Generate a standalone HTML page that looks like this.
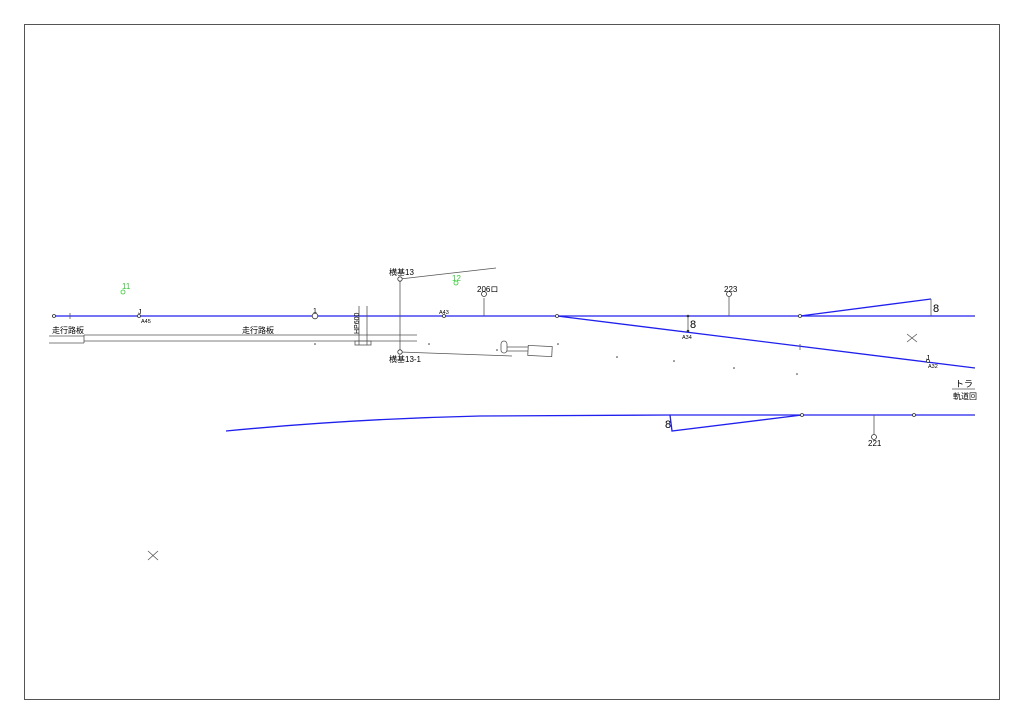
<!DOCTYPE html>
<html><head><meta charset="utf-8"><style>
html,body{margin:0;padding:0;background:#fff;}
svg{display:block;}
text{font-family:"Liberation Sans","Noto Sans CJK JP",sans-serif;fill:#000;}
</style></head><body>
<svg width="1024" height="724" viewBox="0 0 1024 724" xmlns="http://www.w3.org/2000/svg">
<rect x="24.5" y="24.5" width="975" height="675" fill="none" stroke="#555" stroke-width="1"/>
<!-- blue tracks -->
<g stroke="#2020ee" stroke-width="1.3" fill="none">
<line x1="52" y1="316" x2="975" y2="316"/>
<line x1="557" y1="316" x2="975" y2="368"/>
<polyline points="800,316 931,299"/>
<path d="M226,431 Q350,419 480,416 L670,415 L975,415"/>
<polyline points="670,415 672,431 802,415"/>
</g>
<!-- gray lines -->
<g stroke="#555" stroke-width="0.8" fill="none">
<line x1="931" y1="299" x2="931" y2="316"/>
<line x1="84" y1="335" x2="417" y2="335"/>
<line x1="84" y1="341" x2="417" y2="341"/>
<line x1="49" y1="336" x2="84" y2="336"/>
<line x1="49" y1="343" x2="84" y2="343"/>
<line x1="84" y1="335" x2="84" y2="343"/>
<line x1="359" y1="306" x2="359" y2="345"/>
<line x1="367" y1="306" x2="367" y2="345"/>
<rect x="355" y="341" width="16" height="4"/>
<line x1="400" y1="279" x2="400" y2="352"/>
<line x1="400" y1="279" x2="496" y2="268"/>
<line x1="400" y1="352" x2="512" y2="356"/>
<line x1="484" y1="298" x2="484" y2="316"/>
<line x1="729" y1="297" x2="729" y2="316"/>
<line x1="688" y1="316" x2="688" y2="331"/>
<line x1="874" y1="415" x2="874" y2="435"/>
<line x1="70" y1="313" x2="70" y2="319"/>
<line x1="800" y1="344" x2="800" y2="350"/>
<line x1="907" y1="334" x2="917" y2="342"/><line x1="917" y1="334" x2="907" y2="342"/>
<line x1="148" y1="551" x2="158" y2="560"/><line x1="158" y1="551" x2="148" y2="560"/>
<rect x="501" y="341" width="6" height="12" rx="3"/>
<line x1="507" y1="347" x2="528" y2="347"/>
<line x1="507" y1="351" x2="528" y2="351"/>
<rect x="528" y="346" width="24" height="10" transform="rotate(3 540 351)"/>
<line x1="952" y1="389" x2="975" y2="389"/>
</g>
<!-- nodes -->
<g fill="#fff" stroke="#333" stroke-width="0.8">
<circle cx="54" cy="316" r="1.5"/>
<circle cx="139" cy="316" r="1.5"/>
<circle cx="315" cy="316" r="2.8"/>
<circle cx="400" cy="279" r="2.2"/>
<circle cx="400" cy="352" r="2.2"/>
<circle cx="444" cy="316" r="1.5"/>
<circle cx="557" cy="316" r="1.5"/>
<circle cx="484" cy="294" r="2.5"/>
<circle cx="729" cy="294" r="2.5"/>
<circle cx="800" cy="316" r="1.5"/>
<circle cx="802" cy="415" r="1.5"/>
<circle cx="914" cy="415" r="1.5"/>
<circle cx="874" cy="437" r="2.5"/>
<circle cx="928" cy="361" r="1.5"/>
<circle cx="123" cy="292" r="2" stroke="#3c3"/>
<circle cx="456" cy="283" r="2" stroke="#3c3"/>
</g>
<g fill="#333">
<circle cx="688" cy="316" r="1.3"/><circle cx="688" cy="331" r="1.3"/>
<circle cx="315" cy="344" r="0.8"/><circle cx="429" cy="344" r="0.8"/>
<circle cx="497" cy="350" r="0.8"/><circle cx="558" cy="344" r="0.8"/>
<circle cx="617" cy="357" r="0.8"/><circle cx="674" cy="361" r="0.8"/>
<circle cx="734" cy="368" r="0.8"/><circle cx="797" cy="374" r="0.8"/>
</g>
<!-- text -->
<g font-size="8">
<text x="389" y="275">横基13</text>
<text x="389" y="362">横基13-1</text>
<text x="52" y="333">走行路板</text>
<text x="242" y="333">走行路板</text>
<text x="477" y="292">206ロ</text>
<text x="724" y="292">223</text>
<text x="868" y="446">221</text>
<text x="953" y="399">軌道回</text>
<text x="955" y="387" font-size="9">トラ</text>
<text x="122" y="289" fill="#3c3" style="fill:#3c3">11</text>
<text x="452" y="281" fill="#3c3" style="fill:#3c3">12</text>
<text x="359" y="334" transform="rotate(-90 359 334)" font-size="7">HP600</text>
</g>
<g font-size="5.5">
<text x="141" y="323">A45</text>
<text x="439" y="314">A43</text>
<text x="682" y="339">A34</text>
<text x="928" y="368">A32</text>
<text x="138" y="314" font-size="7">J</text>
<text x="926" y="360" font-size="7">J</text>
<text x="313" y="313" font-size="7">1</text>
</g>
<g font-size="11">
<text x="690" y="328">8</text>
<text x="933" y="312">8</text>
<text x="665" y="428">8</text>
</g>
</svg>
</body></html>
